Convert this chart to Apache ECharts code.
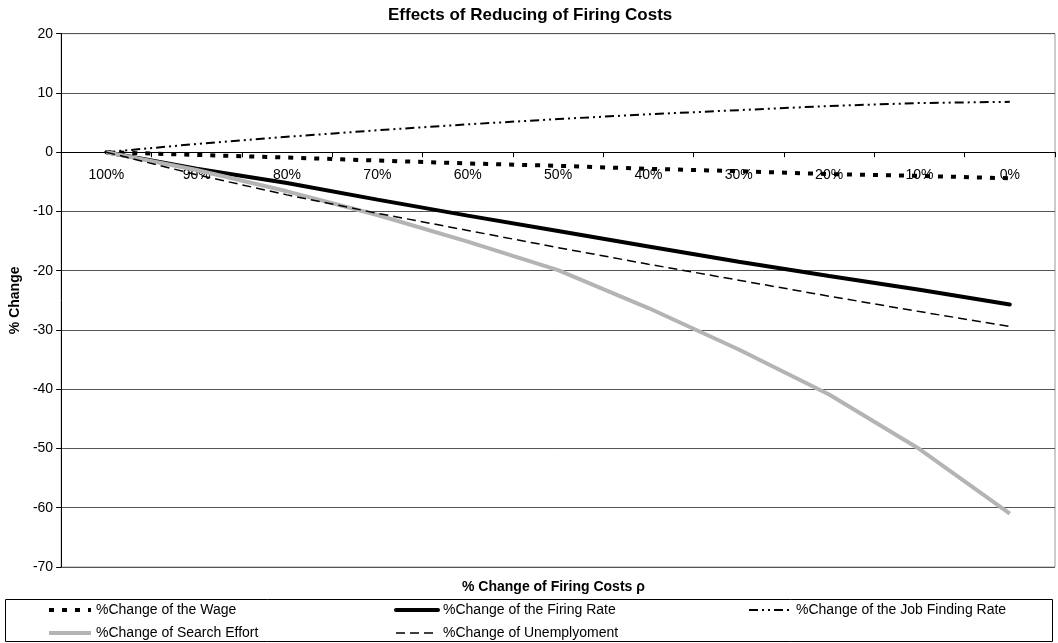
<!DOCTYPE html>
<html>
<head>
<meta charset="utf-8">
<script src="https://cdn.jsdelivr.net/npm/echarts@6/dist/echarts.min.js"></script>
<style>
html,body{margin:0;padding:0;background:#fff;}
#chart{width:1058px;height:643px;}
</style>
</head>
<body>
<div id="chart"></div>
<script>
const categories = ['100%','90%','80%','70%','60%','50%','40%','30%','20%','10%','0%'];
const yTicks = [-70,-60,-50,-40,-30,-20,-10,0,10,20];
const wage = [0,-0.45,-0.9,-1.4,-1.9,-2.3,-2.8,-3.2,-3.7,-4.0,-4.4];
const firingRate = [0,-2.8,-5.2,-8.0,-10.7,-13.3,-15.9,-18.5,-20.9,-23.2,-25.7];
const jobFinding = [0,1.4,2.6,3.7,4.7,5.6,6.4,7.1,7.8,8.3,8.5];
const searchEffort = [0,-3.0,-6.6,-10.6,-15.1,-19.9,-26.3,-33.3,-40.9,-50.1,-61.0];
const unemployment = [0,-3.8,-7.2,-10.3,-13.2,-16.1,-18.9,-21.6,-24.3,-26.9,-29.4];

const names = {
  wage: '%Change of the Wage',
  firing: '%Change of the Firing Rate',
  job: '%Change of the Job Finding Rate',
  search: '%Change of Search Effort',
  unemp: '%Change of Unemplyoment'
};

const styles = {
  wage: {color: '#000', width: 4, type: [5, 8]},
  firing: {color: '#000', width: 4},
  job: {color: '#000', width: 2, type: [9, 4, 2, 4, 2, 4]},
  search: {color: '#b4b4b4', width: 4},
  unemp: {color: '#000', width: 1.5, type: [9, 5]}
};

const FONT = '"Liberation Sans", Arial, sans-serif';
const chart = echarts.init(document.getElementById('chart'), null, {renderer:'canvas'});

const GRID_TOP = 33.7, GRID_BOTTOM = 76;
const plotH = 643 - GRID_TOP - GRID_BOTTOM;
const yMin = yTicks[0], yMax = yTicks[yTicks.length - 1];
// move the category axis up to the zero line
const zeroOffset = -plotH * (0 - yMin) / (yMax - yMin);

const legendBase = {
  orient: 'vertical',
  top: 603,
  itemWidth: 42,
  itemHeight: 14,
  itemGap: 9,
  padding: 0,
  itemStyle: {opacity: 0},
  textStyle: {fontFamily: FONT, fontSize: 14, color: '#000'}
};
const legendItem = key => ({name: names[key], lineStyle: Object.assign({}, styles[key]), itemStyle: {opacity: 0}});

chart.setOption({
  animation: false,
  backgroundColor: '#fff',
  textStyle: {fontFamily: FONT},
  title: {
    text: 'Effects of Reducing of Firing Costs',
    left: 388,
    top: 7,
    padding: 0,
    textStyle: {fontFamily: FONT, fontSize: 17, fontWeight: 'bold', color: '#000'}
  },
  grid: {
    left: 60, right: 3, top: GRID_TOP, bottom: GRID_BOTTOM,
    show: true, borderColor: '#999', borderWidth: 1, backgroundColor: '#fff'
  },
  legend: [
    Object.assign({left: 47, data: [legendItem('wage'), legendItem('search')]}, legendBase),
    Object.assign({left: 394, data: [legendItem('firing'), legendItem('unemp')]}, legendBase),
    Object.assign({left: 748, data: [legendItem('job')]}, legendBase)
  ],
  xAxis: {
    type: 'category',
    data: categories,
    boundaryGap: true,
    position: 'bottom',
    offset: zeroOffset,
    axisLine: {onZero: false, lineStyle: {color: '#000', width: 1}},
    axisTick: {show: true, inside: false, length: 5, lineStyle: {color: '#000'}},
    axisLabel: {interval: 0, margin: 16, fontSize: 14, color: '#000', fontFamily: FONT},
    splitLine: {show: false}
  },
  yAxis: {
    type: 'value',
    min: yMin,
    max: yMax,
    interval: 10,
    name: '% Change',
    nameLocation: 'middle',
    nameGap: 29,
    nameTextStyle: {fontFamily: FONT, fontSize: 14, fontWeight: 'bold', color: '#000'},
    axisLine: {show: true, onZero: false, lineStyle: {color: '#000', width: 1}},
    axisTick: {show: true, length: 5, lineStyle: {color: '#000'}},
    axisLabel: {fontSize: 14, color: '#000', margin: 8, fontFamily: FONT},
    splitLine: {show: true, lineStyle: {color: '#555', width: 1}}
  },
  graphic: [
    {
      type: 'text',
      left: 462,
      top: 580,
      style: {
        text: '% Change of Firing Costs ρ',
        fill: '#000',
        font: 'bold 14px ' + FONT
      }
    },
    {
      type: 'rect',
      shape: {x: 5.5, y: 599.5, width: 1047, height: 42},
      style: {fill: 'none', stroke: '#000', lineWidth: 1},
      z: -1
    }
  ],
  series: [
    {
      name: names.wage, type: 'line', data: wage, symbol: 'none',
      lineStyle: styles.wage, itemStyle: {color: '#000'}
    },
    {
      name: names.firing, type: 'line', data: firingRate, symbol: 'none',
      lineStyle: Object.assign({cap: 'round'}, styles.firing), itemStyle: {color: '#000'}
    },
    {
      name: names.job, type: 'line', data: jobFinding, symbol: 'none',
      lineStyle: styles.job, itemStyle: {color: '#000'}
    },
    {
      name: names.search, type: 'line', data: searchEffort, symbol: 'none',
      lineStyle: styles.search, itemStyle: {color: '#b4b4b4'}
    },
    {
      name: names.unemp, type: 'line', data: unemployment, symbol: 'none',
      lineStyle: styles.unemp, itemStyle: {color: '#000'}
    }
  ]
});
</script>
</body>
</html>
